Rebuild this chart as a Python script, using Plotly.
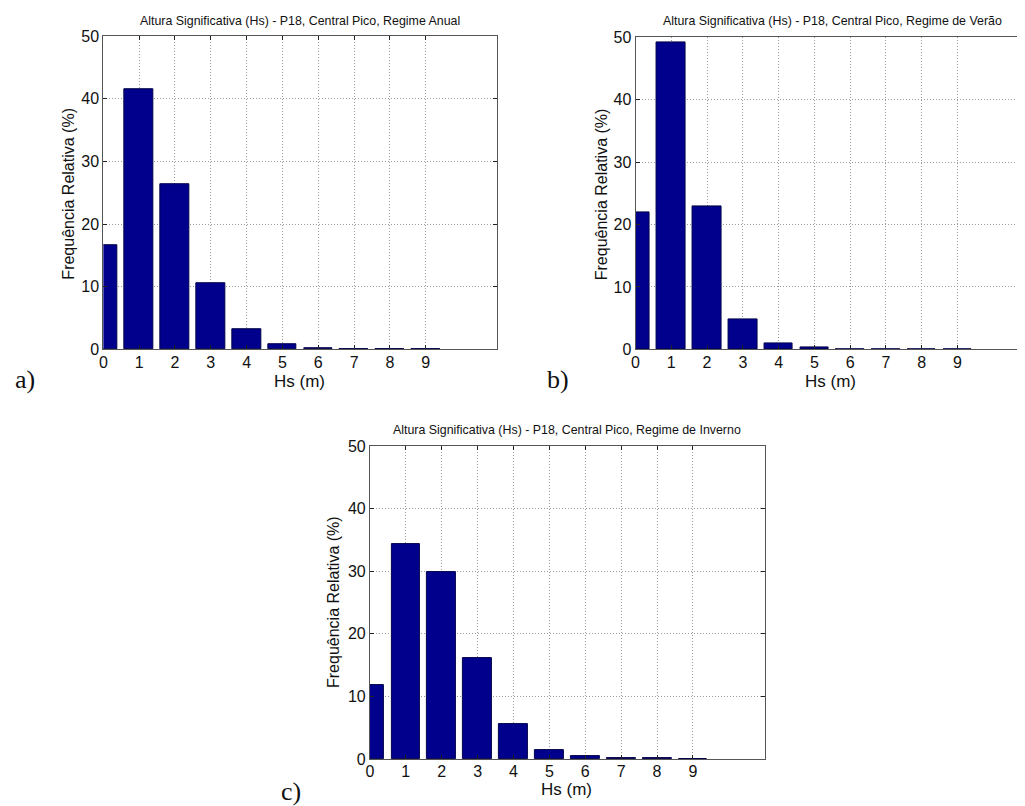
import plotly.graph_objects as go

# ---- data ----
hs = [0, 1, 2, 3, 4, 5, 6, 7, 8, 9]
anual = [16.7, 41.5, 26.3, 10.5, 3.2, 0.8, 0.25, 0.08, 0.05, 0.05]
verao = [21.9, 49.2, 22.9, 4.8, 0.9, 0.25, 0.05, 0.05, 0.05, 0.05]
inverno = [11.9, 34.3, 29.9, 16.2, 5.65, 1.5, 0.55, 0.1, 0.1, 0.0]

titles = [
    "Altura Significativa (Hs) - P18, Central Pico, Regime Anual",
    "Altura Significativa (Hs) - P18, Central Pico, Regime de Verão",
    "Altura Significativa (Hs) - P18, Central Pico, Regime de Inverno",
]
panel_labels = ["a)", "b)", "c)"]
xlabel = "Hs (m)"
ylabel = "Frequência Relativa (%)"
x_ticks = [0, 1, 2, 3, 4, 5, 6, 7, 8, 9]
y_ticks = [0, 10, 20, 30, 40, 50]

W, H = 1025, 806
SANS = "Liberation Sans, Arial, sans-serif"
SERIF = "Liberation Serif, Times New Roman, serif"
BAR = "#00008C"

# calibration between target pixel positions and layout positions
OX, OY, SY = 10.0, 15.3, 0.978


def px(x):
    return (x - OX) / W


def py(y):
    return 1 - ((y - OY) / SY) / H


fig = go.Figure()

series = [anual, verao, inverno]
axes = [("x", "y"), ("x2", "y2"), ("x3", "y3")]
for vals, (xa, ya) in zip(series, axes):
    fig.add_trace(go.Bar(
        x=hs, y=vals, width=0.8, xaxis=xa, yaxis=ya,
        marker=dict(color=BAR, line=dict(color="#00004a", width=1)),
        showlegend=False, hoverinfo="x+y",
    ))

# panel geometry in target pixels: left, right, top, bottom, x-range
panels = [
    (101.7, 497.3, 35.5, 348.3, [0, 11]),
    (636.0, 1035.0, 36.7, 348.3, [0, (1035 - 636.0) / 35.9]),
    (369.3, 765.7, 445.0, 757.7, [0, 11]),
]

GRID = dict(showgrid=True, gridcolor="#9a9a9a", griddash="1px,2px", gridwidth=1)
common_x = dict(
    tickvals=x_ticks, ticks="inside", ticklen=4, tickcolor="#222",
    showline=True, linecolor="#555", linewidth=1,
    tickfont=dict(family=SANS, size=16, color="#111"),
    zeroline=False, fixedrange=True, ticklabelstandoff=-2, **GRID,
)
common_y = dict(
    tickvals=y_ticks, range=[0, 50], ticks="inside", ticklen=4, tickcolor="#222",
    showline=True, linecolor="#555", linewidth=1,
    tickfont=dict(family=SANS, size=16, color="#111"),
    zeroline=False, fixedrange=True, **GRID,
)

layout = dict(
    width=W, height=H, margin=dict(l=0, r=0, t=0, b=0),
    paper_bgcolor="white", plot_bgcolor="white", bargap=0,
)
for i, (l, r, t, b, xr) in enumerate(panels):
    sfx = "" if i == 0 else str(i + 1)
    xd = dict(common_x, domain=[px(l), min(px(r), 1.0)], range=xr,
              anchor="y" + sfx, mirror=True if i == 1 else "ticks")
    yd = dict(common_y, domain=[py(b), py(t)], anchor="x" + sfx,
              mirror=False if i == 1 else "ticks")
    layout["xaxis" + sfx] = xd
    layout["yaxis" + sfx] = yd

fig.update_layout(**layout)

ann = []
title_pos = [(299.5, 20), (833.5, 20), (567.5, 429)]
xlab_pos = [(299, 380), (832, 380), (567, 788)]
ylab_pos = [(67, 193), (601.7, 193), (333, 601)]
letter_pos = [(23, 378), (558, 378), (290, 790)]
for i in range(3):
    ann.append(dict(text=titles[i], x=px(title_pos[i][0]), y=py(title_pos[i][1]),
                    xref="paper", yref="paper", showarrow=False,
                    xanchor="center", yanchor="middle",
                    font=dict(family=SANS, size=12.4, color="#111")))
    ann.append(dict(text=xlabel, x=px(xlab_pos[i][0]), y=py(xlab_pos[i][1]),
                    xref="paper", yref="paper", showarrow=False,
                    xanchor="center", yanchor="middle",
                    font=dict(family=SANS, size=17, color="#111")))
    ann.append(dict(text=ylabel, x=px(ylab_pos[i][0]), y=py(ylab_pos[i][1]),
                    xref="paper", yref="paper", showarrow=False, textangle=-90,
                    xanchor="center", yanchor="middle",
                    font=dict(family=SANS, size=16, color="#111")))
    ann.append(dict(text=panel_labels[i], x=px(letter_pos[i][0]), y=py(letter_pos[i][1]),
                    xref="paper", yref="paper", showarrow=False,
                    xanchor="center", yanchor="middle",
                    font=dict(family=SERIF, size=26, color="#111")))
fig.update_layout(annotations=ann)

fig.write_html("out.html")
